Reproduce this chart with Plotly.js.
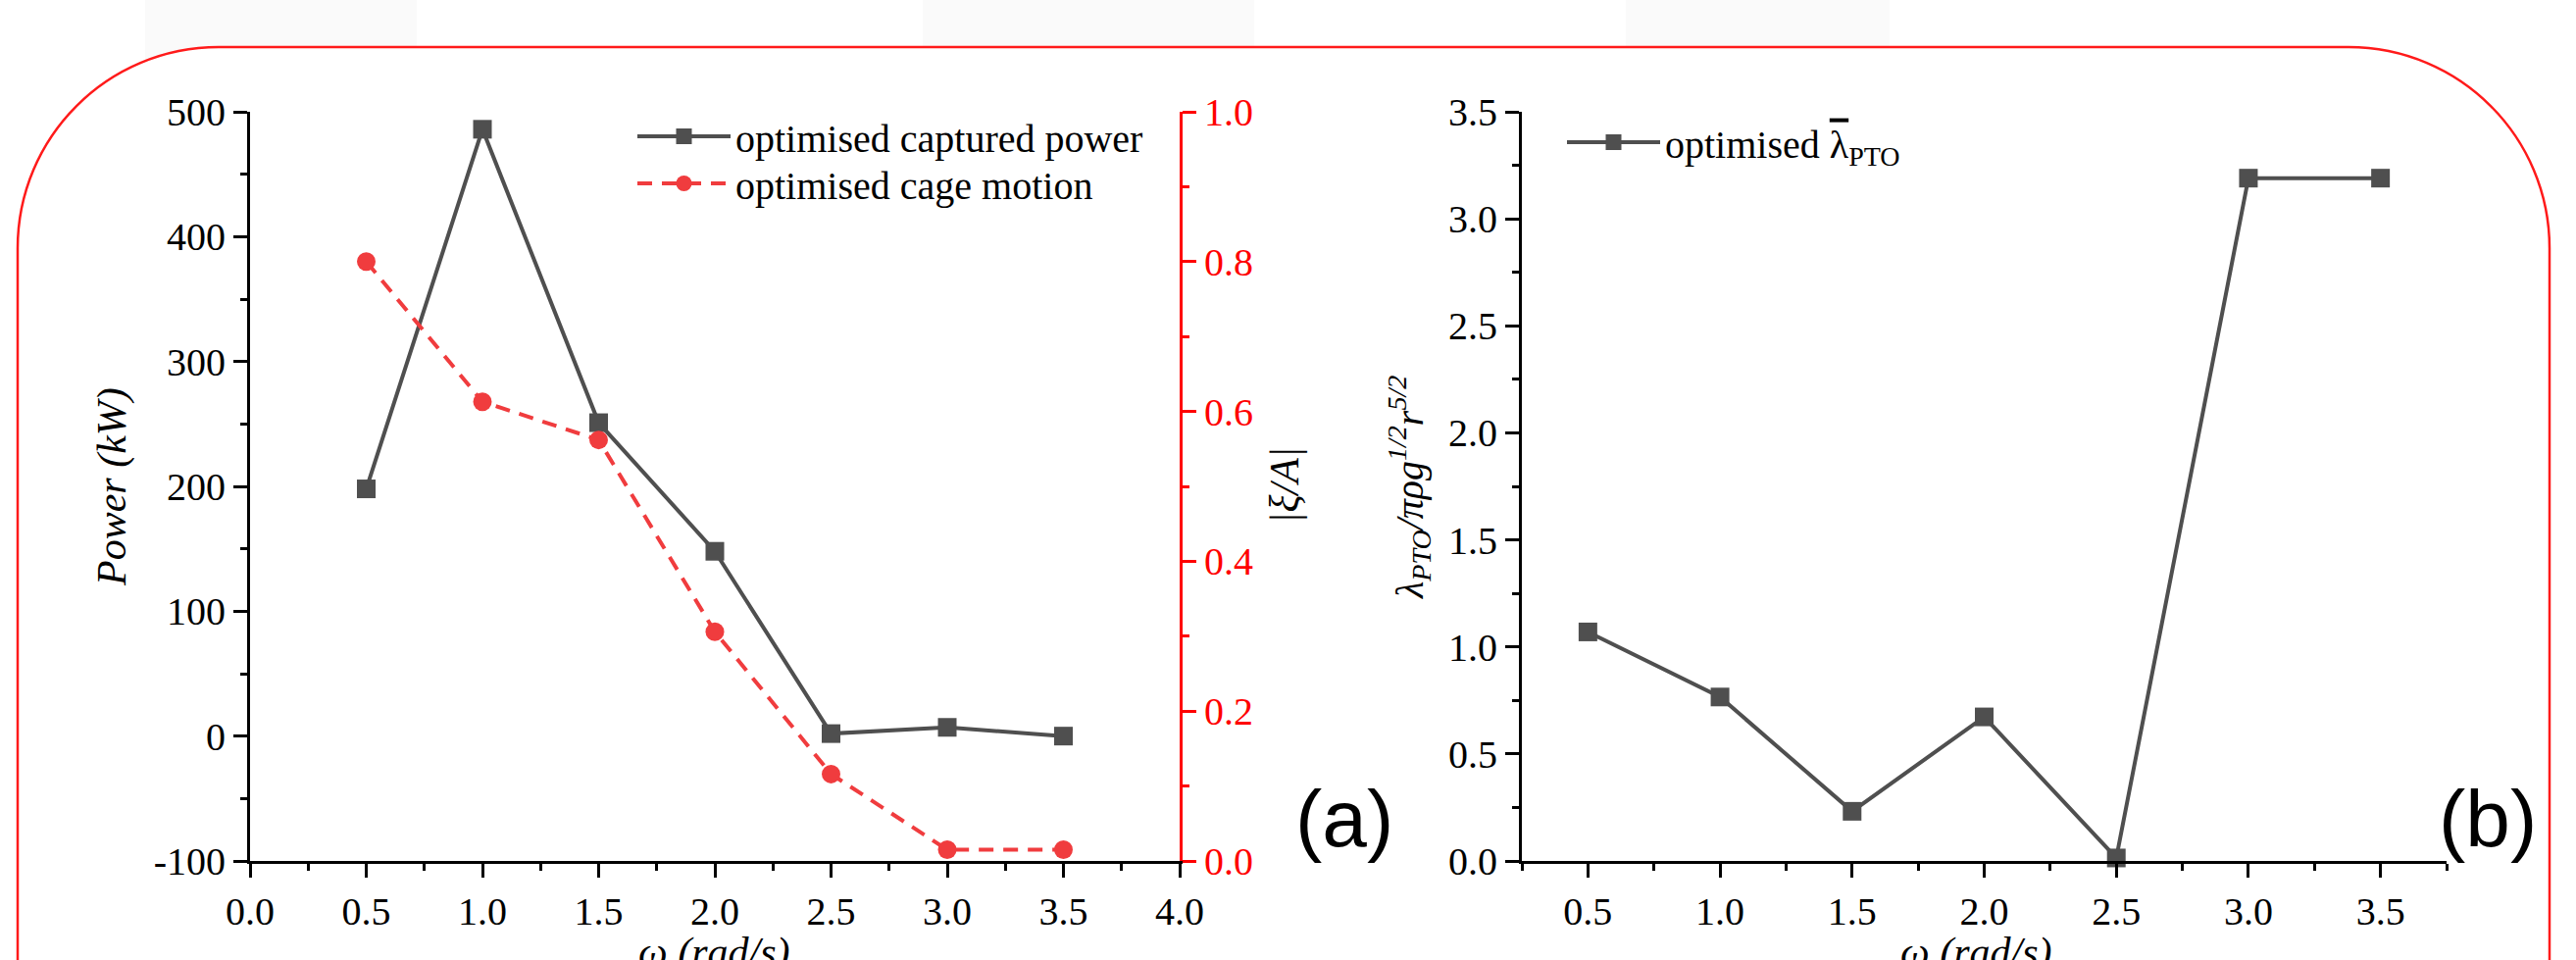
<!DOCTYPE html>
<html>
<head>
<meta charset="utf-8">
<script src="https://cdn.plot.ly/plotly-3.0.1.min.js"></script>
<style>html,body{margin:0;padding:0;background:#fff;}#chart{width:2627px;height:979px;}</style>
</head>
<body>
<div id="chart"></div>
<script>
// ---- data ----
const omega = [0.5, 1.0, 1.5, 2.0, 2.5, 3.0, 3.5];
const capturedPower = [198, 486, 251, 148, 2, 7, 0];          // kW
const cageMotion = [0.80, 0.613, 0.562, 0.306, 0.116, 0.015, 0.015]; // |xi/A|
const lambdaPTO = [1.07, 0.766, 0.232, 0.673, 0.014, 3.19, 3.19];

const seriesNames = ['optimised captured power', 'optimised cage motion',
  'optimised <span style="text-decoration:overline">\u03BB</span><sub>PTO</sub>'];

// ---- layout helpers (pixel -> paper) ----
const W = 2627, H = 979;
const px = v => v / W;
const py = v => 1 - v / H;
const SERIF = 'Liberation Serif, Times New Roman, serif';
const SANS = 'Liberation Sans, Arial, sans-serif';
const GREY = '#4f4f4f';
const RED = '#f03c3e';

const traces = [
  {x: omega, y: capturedPower, name: seriesNames[0], type: 'scatter', mode: 'lines+markers',
   xaxis: 'x', yaxis: 'y', legend: 'legend', cliponaxis: false,
   line: {color: GREY, width: 4}, marker: {symbol: 'square', size: 19, color: GREY}},
  {x: omega, y: cageMotion, name: seriesNames[1], type: 'scatter', mode: 'lines+markers',
   xaxis: 'x', yaxis: 'y2', legend: 'legend3', cliponaxis: false,
   line: {color: RED, width: 4, dash: '15px,10px'}, marker: {symbol: 'circle', size: 19, color: RED}},
  {x: omega, y: lambdaPTO, name: seriesNames[2], type: 'scatter', mode: 'lines+markers',
   xaxis: 'x2', yaxis: 'y3', legend: 'legend2', cliponaxis: false,
   line: {color: GREY, width: 4}, marker: {symbol: 'square', size: 19, color: GREY}}
];

const tickFont = {family: SERIF, size: 40, color: '#000'};
function axisBase(extra) {
  return Object.assign({
    showline: true, linewidth: 3, linecolor: '#000', showgrid: false, zeroline: false,
    ticks: 'outside', ticklen: 14, tickwidth: 3, tickcolor: '#000', tickfont: tickFont,
    fixedrange: true
  }, extra);
}

const yDom = [py(878), py(114)];

// rounded panel border
const L = 18, R = 2600, T = 48, RAD = 205, K = 0.5523, B = 1100;
const panelPath = [
  'M', px(L), py(B),
  'L', px(L), py(T + RAD),
  'C', px(L), py(T + RAD - K * RAD), px(L + RAD - K * RAD), py(T), px(L + RAD), py(T),
  'L', px(R - RAD), py(T),
  'C', px(R - RAD + K * RAD), py(T), px(R), py(T + RAD - K * RAD), px(R), py(T + RAD),
  'L', px(R), py(B), 'Z'
].join(' ');

const greyBlocks = [[148, 425], [941, 1279], [1658, 1927]];
const shapes = greyBlocks.map(b => ({
  type: 'rect', xref: 'paper', yref: 'paper', layer: 'below',
  x0: px(b[0]), x1: px(b[1]), y0: py(140), y1: py(0),
  fillcolor: '#fafafa', line: {width: 0}
}));
shapes.push({type: 'path', xref: 'paper', yref: 'paper', layer: 'below', path: panelPath,
  fillcolor: '#ffffff', line: {color: '#ff1a1a', width: 2.5}});

function ann(text, x, y, opts) {
  return Object.assign({text: text, xref: 'paper', yref: 'paper', x: px(x), y: py(y),
    xanchor: 'center', yanchor: 'middle', showarrow: false,
    font: {family: SERIF, size: 42, color: '#000'}}, opts || {});
}

const annotations = [
  ann('<i>Power (kW)</i>', 115, 497, {textangle: -90}),
  ann('<i>|\u03BE/A|</i>', 1310, 495, {textangle: -90}),
  ann('<i>\u03C9 (rad/s)</i>', 728, 971),
  ann('<i>\u03C9 (rad/s)</i>', 2015, 971),
  ann('<i>\u03BB<sub>PTO</sub>/\u03C0\u03C1g<sup>1/2</sup>r<sup>5/2</sup></i>', 1437, 497, {textangle: -90, font: {family: SERIF, size: 40, color: '#000'}}),
  ann('(a)', 1371, 834, {font: {family: SANS, size: 82, color: '#000'}}),
  ann('(b)', 2537, 834, {font: {family: SANS, size: 82, color: '#000'}})
];

function legendAt(x, y) {
  return {x: px(x), y: py(y), xanchor: 'left', yanchor: 'middle', bgcolor: 'rgba(0,0,0,0)',
    borderwidth: 0, itemwidth: 95, font: {family: SERIF, size: 40, color: '#000'}};
}

const layout = {
  width: W, height: H,
  margin: {l: 0, r: 0, t: 0, b: 0},
  paper_bgcolor: '#ffffff', plot_bgcolor: 'rgba(0,0,0,0)',
  showlegend: true,
  xaxis: axisBase({domain: [px(255), px(1203)], range: [0, 4], anchor: 'y', dtick: 0.5, tick0: 0,
    tickformat: '.1f', minor: {dtick: 0.25, ticklen: 7, tickwidth: 3, tickcolor: '#000', ticks: 'outside'}}),
  yaxis: axisBase({domain: yDom, range: [-100, 500], anchor: 'x', dtick: 100, tick0: 0,
    labelalias: {'\u2212100': '-100'},
    minor: {dtick: 50, ticklen: 7, tickwidth: 3, tickcolor: '#000', ticks: 'outside'}}),
  yaxis2: axisBase({overlaying: 'y', side: 'right', anchor: 'x', range: [0, 1], dtick: 0.2, tick0: 0,
    tickformat: '.1f', linecolor: '#ff0000', tickcolor: '#ff0000',
    tickfont: {family: SERIF, size: 40, color: '#ff0000'},
    minor: {dtick: 0.1, ticklen: 7, tickwidth: 3, tickcolor: '#ff0000', ticks: 'outside'}}),
  xaxis2: axisBase({domain: [px(1552), px(2495)], range: [0.25, 3.75], anchor: 'y3', dtick: 0.5, tick0: 0,
    tickformat: '.1f', minor: {dtick: 0.25, ticklen: 7, tickwidth: 3, tickcolor: '#000', ticks: 'outside'}}),
  yaxis3: axisBase({domain: yDom, range: [0, 3.5], anchor: 'x2', dtick: 0.5, tick0: 0, tickformat: '.1f',
    minor: {dtick: 0.25, ticklen: 7, tickwidth: 3, tickcolor: '#000', ticks: 'outside'}}),
  legend: legendAt(645, 139),
  legend3: legendAt(645, 187),
  legend2: legendAt(1593, 145),
  shapes: shapes,
  annotations: annotations
};

Plotly.newPlot('chart', traces, layout, {displayModeBar: false, staticPlot: true});
</script>
</body>
</html>
